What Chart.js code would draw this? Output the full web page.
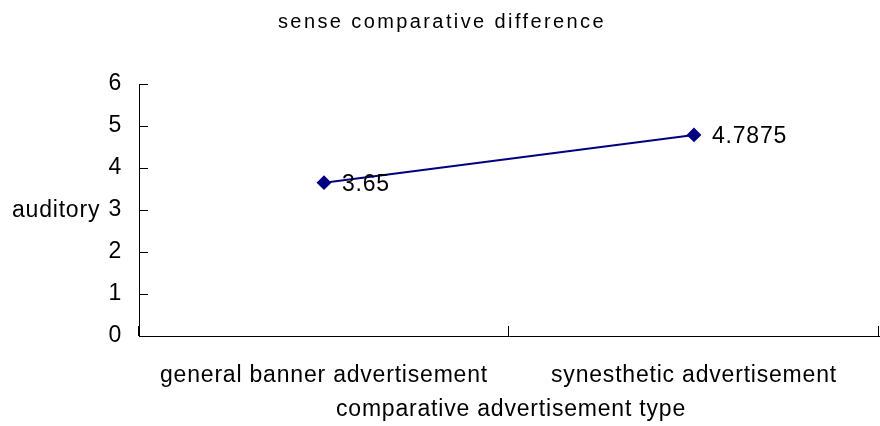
<!DOCTYPE html>
<html>
<head>
<meta charset="utf-8">
<script src="https://cdn.jsdelivr.net/npm/chart.js@4"></script>
<style>
  html, body { margin: 0; padding: 0; background: #fff; overflow: hidden; }
  canvas { display: block; }
</style>
</head>
<body>
<canvas id="senseChart" width="880" height="426"></canvas>
<script>
// sense comparative difference - auditory

const categories = ['general banner advertisement', 'synesthetic advertisement'];
const auditoryValues = [3.65, 4.7875];
const yTickValues = [0, 1, 2, 3, 4, 5, 6];

const chartTitle = 'sense comparative difference';
const xTitle = 'comparative advertisement type';
const yTitle = 'auditory';

const FONT = "'Liberation Sans', Arial, sans-serif";
const NAVY = '#000080';

// inward tick marks, titles and point labels
const extrasPlugin = {
    id: 'extras',
    beforeDraw(chart) {
        chart.ctx.letterSpacing = '0.8px';
    },
    afterDraw(chart) {
        const ctx = chart.ctx;
        const xs = chart.scales.x;
        const ys = chart.scales.y;
        ctx.save();
        ctx.strokeStyle = '#000';
        ctx.lineWidth = 1;
        ctx.beginPath();
        for (let i = 0; i <= categories.length; i++) {
            const x = Math.round(xs.getPixelForValue(i - 0.5)) - 0.5;
            ctx.moveTo(x, ys.bottom);
            ctx.lineTo(x, ys.bottom - 10);
        }
        yTickValues.forEach(v => {
            const y = Math.round(ys.getPixelForValue(v)) + 0.5;
            ctx.moveTo(xs.left, y);
            ctx.lineTo(xs.left + 9, y);
        });
        ctx.stroke();

        ctx.fillStyle = '#000';
        ctx.textBaseline = 'middle';

        ctx.letterSpacing = '2.4px';
        ctx.font = '20px ' + FONT;
        ctx.textAlign = 'center';
        ctx.fillText(chartTitle, 442, 22);

        ctx.letterSpacing = '0.8px';
        ctx.font = '23px ' + FONT;
        ctx.fillText(xTitle, 511, 410);

        ctx.textAlign = 'left';
        ctx.fillText(yTitle, 12, ys.getPixelForValue(3) + 1);

        const meta = chart.getDatasetMeta(0);
        meta.data.forEach((pt, i) => {
            ctx.fillText(String(auditoryValues[i]), pt.x + 18, pt.y + 2);
        });
        ctx.restore();
    }
};

new Chart(document.getElementById('senseChart'), {
    type: 'line',
    data: {
        labels: categories,
        datasets: [{
            label: yTitle,
            data: auditoryValues,
            borderColor: NAVY,
            backgroundColor: NAVY,
            borderWidth: 2,
            pointStyle: 'rectRot',
            pointRadius: 6,
            pointHoverRadius: 6,
            tension: 0
        }]
    },
    plugins: [extrasPlugin],
    options: {
        responsive: false,
        animation: false,
        events: [],
        layout: {
            autoPadding: false,
            padding: { top: 84, right: 1, left: 0, bottom: 0 }
        },
        plugins: {
            legend: { display: false },
            title: { display: false },
            tooltip: { enabled: false }
        },
        scales: {
            x: {
                type: 'category',
                offset: true,
                grid: { display: false, drawTicks: false },
                border: { display: true, color: '#000', width: 1 },
                ticks: {
                    color: '#000',
                    font: { family: FONT, size: 23 },
                    padding: 26,
                    maxRotation: 0,
                    autoSkip: false
                },
                afterFit: s => { s.height = 90; }
            },
            y: {
                min: 0,
                max: 6,
                grid: { display: false, drawTicks: false },
                border: { display: true, color: '#000', width: 1 },
                ticks: {
                    stepSize: 1,
                    color: '#000',
                    font: { family: FONT, size: 23 },
                    padding: 17
                },
                afterFit: s => { s.width = 139; }
            }
        }
    }
});
</script>
</body>
</html>
